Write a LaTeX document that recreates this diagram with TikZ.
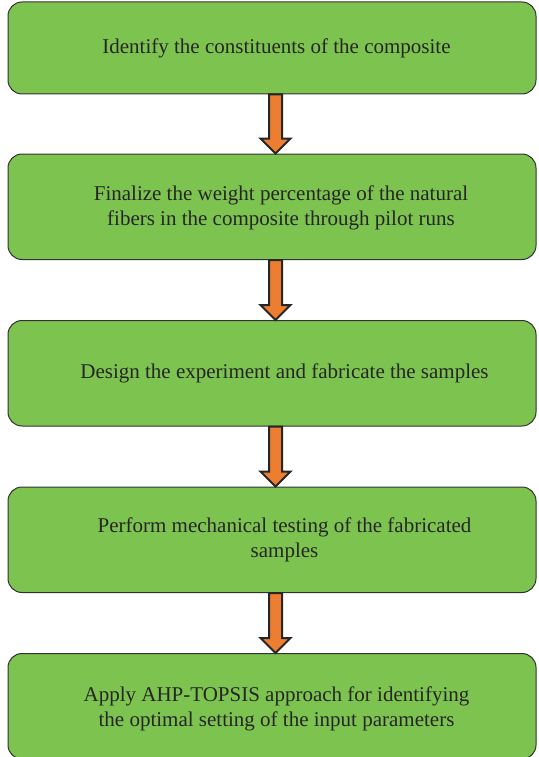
\documentclass[tikz,border=0pt]{standalone}
\usepackage{fontspec}
\setmainfont{Liberation Serif}
\usetikzlibrary{positioning,calc}

\definecolor{stepgreen}{RGB}{125,195,80}
\definecolor{steporange}{RGB}{237,125,49}
\definecolor{edgegray}{RGB}{50,50,50}

\tikzset{
  stepbox/.style={draw=edgegray, line width=1pt, fill=stepgreen,
    rounded corners=14pt, minimum width=528pt, minimum height=105.5pt},
  steptext/.style={align=center, text=black!85,
    font=\fontsize{21}{25}\selectfont},
  arrowfill/.style={draw=black!85, line width=2pt, fill=steporange, line join=miter},
}

% block arrow from the bottom of one box to the top of the next
\newcommand\blockarrow[2]{%
  \draw[arrowfill] let \p1=([xshift=3.5pt]#1.south), \p2=(#2.north) in
    (\x1-6.5pt,\y1) -- (\x1+6.5pt,\y1) -- (\x1+6.5pt,\y2+15pt)
    -- (\x1+15pt,\y2+15pt) -- (\x1,\y2) -- (\x1-15pt,\y2+15pt)
    -- (\x1-6.5pt,\y2+15pt) -- cycle;}

\begin{document}
\begin{tikzpicture}[x=1pt, y=-1pt, node distance=60pt]
\useasboundingbox (0,0) rectangle (538,757);

% the five boxes
\node[stepbox, minimum height=92pt] (s1) at (272,48) {};
\node[stepbox, below=59pt of s1] (s2) {};
\node[stepbox, below=of s2] (s3) {};
\node[stepbox, below=of s3] (s4) {};
\node[stepbox, below=of s4] (s5) {};

% texts, set a little right of the box centres
\node[steptext] (t1) at ([xshift=4.5pt]s1.center)
  {Identify the constituents of the composite};
\node[steptext] (t2) at ([xshift=9pt,yshift=-1pt]s2.center)
  {Finalize the weight percentage of the natural\\fibers in the composite through pilot runs};
\node[steptext] (t3) at ([xshift=12.5pt]s3.center)
  {Design the experiment and fabricate the samples};
\node[steptext] (t4) at ([xshift=12.5pt]s4.center)
  {Perform mechanical testing of the fabricated\\samples};
\node[steptext] (t5) at ([xshift=4.5pt,yshift=-3pt]s5.center)
  {Apply AHP-TOPSIS approach for identifying\\the optimal setting of the input parameters};

\foreach \i [evaluate=\i as \j using {int(\i+1)}] in {1,...,4}
  \blockarrow{s\i}{s\j};

\end{tikzpicture}
\end{document}
